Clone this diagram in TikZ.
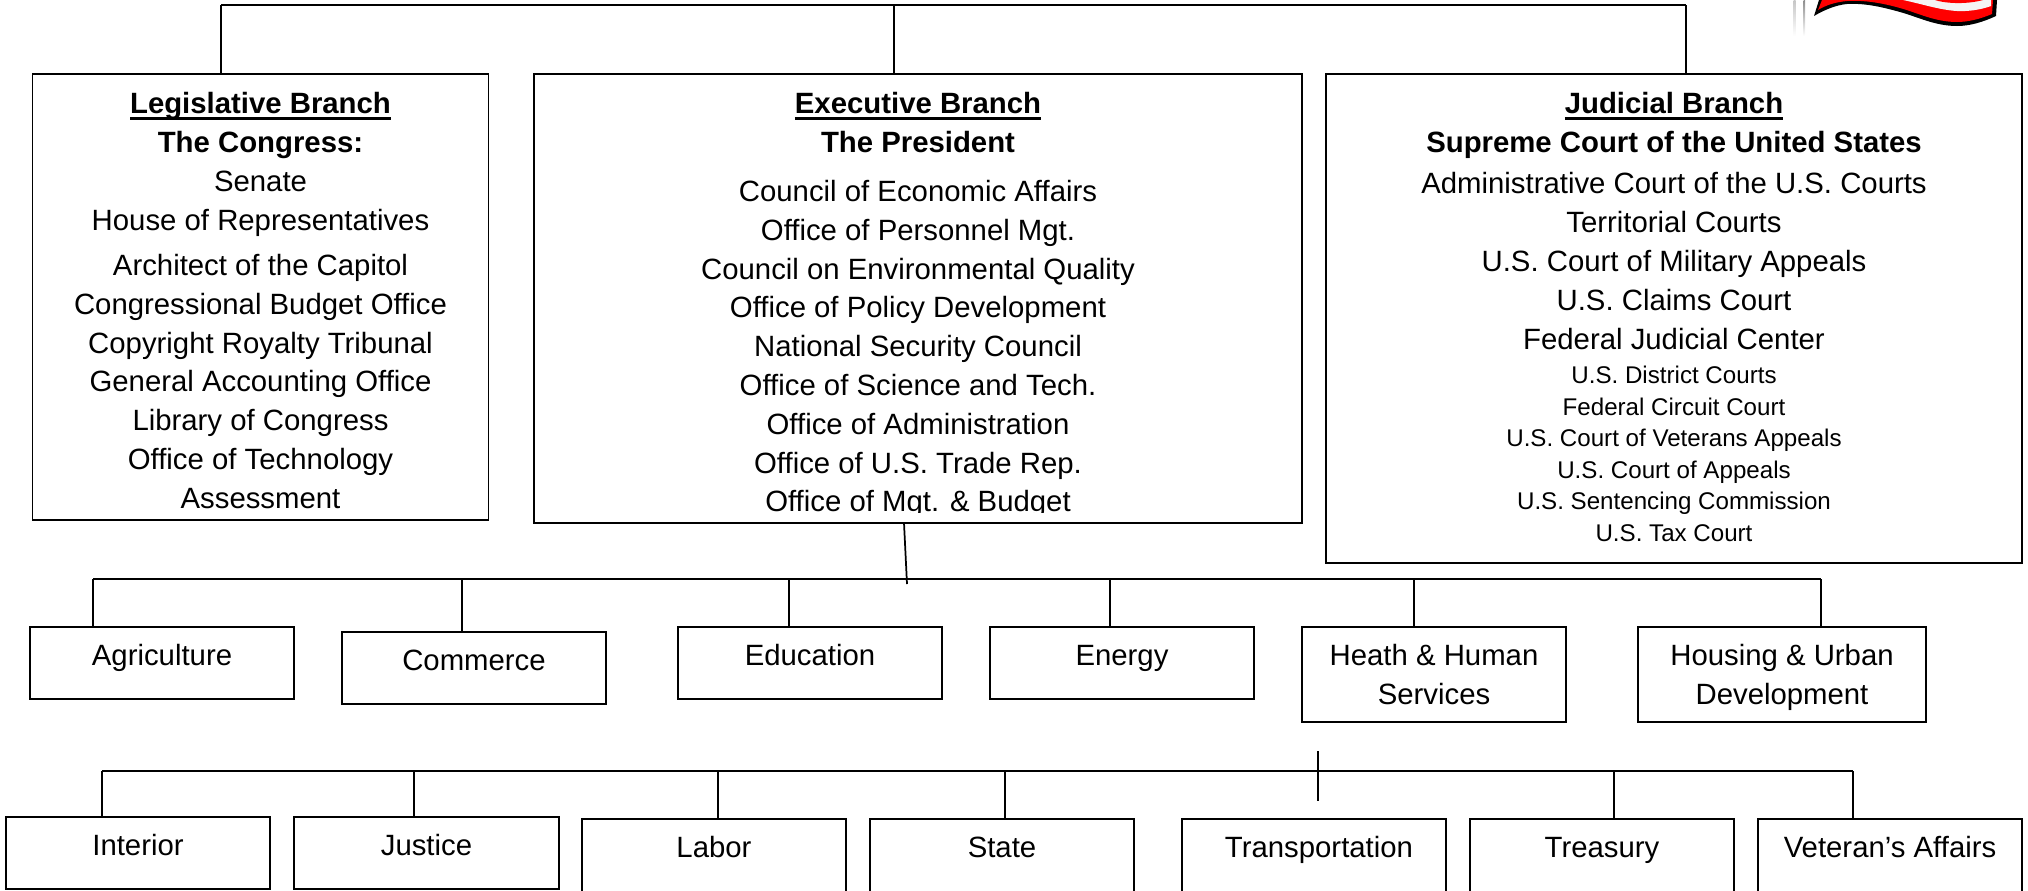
\documentclass[tikz,border=0pt]{standalone}
\usepackage{fontspec}
\setmainfont{Liberation Sans}

\newcommand{\headRule}[1]{\setbox0\hbox{#1}\rlap{\rule[-5pt]{\wd0}{2.4pt}}\box0}

\begin{document}
\begin{tikzpicture}
[x=0.75pt,y=-0.75pt,line width=1.3pt,%
  boxDecorate/.style={shape=rectangle,draw,inner sep=0pt},%
  lineDecorate/.style={-},%
  textDecorate/.style={inner sep=0pt,anchor=base,yshift=-0.8pt,font=\fontsize{22}{26}\selectfont},%
  smallDecorate/.style={inner sep=0pt,anchor=base,yshift=-0.8pt,font=\fontsize{18.1}{22}\selectfont},%
  headDecorate/.style={inner sep=0pt,anchor=base,yshift=-0.8pt,font=\fontsize{22}{26}\selectfont\bfseries}]
\useasboundingbox (0,0) rectangle (2028,890);
%% flag
\fill[black] (1814,16) -- (1819,0) -- (1997,0) -- (1996,16)
  .. controls (1983,22) and (1970,26) .. (1957,26) .. controls (1935,26) and (1918,17) .. (1900,12)
  .. controls (1882,7) and (1865,3) .. (1847,4) .. controls (1836,5) and (1824,10) .. (1814,16) -- cycle;
\fill[red] (1818,10) -- (1822,0) -- (1993,0) -- (1992,14)
  .. controls (1980,19) and (1968,22) .. (1957,22) .. controls (1935,22) and (1918,13) .. (1900,8)
  .. controls (1882,3) and (1865,0) .. (1847,1) .. controls (1836,2) and (1826,5) .. (1818,10) -- cycle;
\fill[black!4] (1903,0) -- (1991,0) -- (1991,6)
  .. controls (1980,10) and (1968,11.5) .. (1957,11) .. controls (1940,10) and (1922,4) .. (1903,0) -- cycle;
\fill[red] (1935,0) .. controls (1943,3) and (1965,5) .. (1983,0) -- cycle;
\shade[top color=gray!45,bottom color=white] (1793.5,0) rectangle (1795.5,36);
\shade[top color=gray!90,bottom color=white] (1803.5,0) rectangle (1805,36);
%% branch boxes
\foreach \nodename/\x/\y/\w/\h in {legis/260.5/297/456/446, exec/918/298.5/768/449, jud/1674/318.5/696/489}
{
  \node (\nodename) at (\x,\y) [boxDecorate,minimum width=\w*0.75pt,minimum height=\h*0.75pt] {};
}
%% department boxes
\foreach \nodename/\x/\y/\w/\h/\txt/\ty in {%
  agri/162/663/264/72/Agriculture/664,
  comm/474/668/264/72/Commerce/669,
  educ/810/663/264/72/Education/664,
  ener/1122/663/264/72/Energy/664,
  inte/138/853/264/72/Interior/854,
  just/426.5/853/265/72/Justice/854,
  labo/714/858/264/78/Labor/856,
  stat/1002/858/264/78/State/856,
  trea/1602/858/264/78/Treasury/856,
  vete/1890/858/264/78/Veteran’s Affairs/856}
{
  \node (\nodename) at (\x,\y) [boxDecorate,minimum width=\w*0.75pt,minimum height=\h*0.75pt] {};
  \node (\nodename Text) at (\x,\ty) [textDecorate] {\txt};
}
\node (tran) at (1314,858) [boxDecorate,minimum width=198pt,minimum height=58.5pt] {};
\node (heal) at (1434,674.5) [boxDecorate,minimum width=198pt,minimum height=71.25pt] {};
\node (hous) at (1782,674.5) [boxDecorate,minimum width=216pt,minimum height=71.25pt] {};
\foreach \nodename/\x/\y/\txt in {tranText/1319/856/Transportation, healA/1434/664/Heath \& Human, healB/1434/703/Services, housA/1782/664/Housing \& Urban, housB/1782/703/Development}
{
  \node (\nodename) at (\x,\y) [textDecorate] {\txt};
}
%% branch texts
\node (legisHead) at (260.5,112) [headDecorate] {\headRule{Legislative Branch}};
\node (legisSub) at (260.5,151) [headDecorate] {The Congress:};
\foreach \nodename/\y/\txt in {%
  a/190/Senate, b/229/House of Representatives, c/274/Architect of the Capitol,
  d/313/Congressional Budget Office, e/352/Copyright Royalty Tribunal,
  f/390/General Accounting Office, g/429/Library of Congress,
  h/468/Office of Technology, i/507/Assessment}
{
  \node (legis\nodename) at (260.5,\y) [textDecorate] {\txt};
}
\node (execHead) at (918,112) [headDecorate] {\headRule{Executive Branch}};
\node (execSub) at (918,151) [headDecorate] {The President};
\begin{scope}
\clip (534,74) rectangle (1302,512);
\foreach \nodename/\y/\txt in {%
  a/200.5/Council of Economic Affairs, b/239.3/Office of Personnel Mgt.,
  c/278/Council on Environmental Quality, d/316.8/Office of Policy Development,
  e/355.6/National Security Council, f/394.4/Office of Science and Tech.,
  g/433.2/Office of Administration, h/472/Office of U.S. Trade Rep.,
  i/510.6/Office of Mgt. \& Budget}
{
  \node (exec\nodename) at (918,\y) [textDecorate] {\txt};
}
\end{scope}
\node (judHead) at (1674,112) [headDecorate] {\headRule{Judicial Branch}};
\node (judSub) at (1674,151) [headDecorate] {Supreme Court of the United States};
\foreach \nodename/\y/\txt in {%
  a/192.5/Administrative Court of the U.S. Courts, b/231.5/Territorial Courts,
  c/270.5/U.S. Court of Military Appeals, d/309.5/U.S. Claims Court,
  e/348.5/Federal Judicial Center}
{
  \node (jud\nodename) at (1674,\y) [textDecorate] {\txt};
}
\foreach \nodename/\y/\txt in {%
  f/382/U.S. District Courts, g/414/Federal Circuit Court,
  h/445.5/U.S. Court of Veterans Appeals, i/477/U.S. Court of Appeals,
  j/508.5/U.S. Sentencing Commission, k/540.5/U.S. Tax Court}
{
  \node (jud\nodename) at (1674,\y) [smallDecorate] {\txt};
}
%% top bus
\coordinate (topLeft) at (221,5);
\coordinate (topMid) at (894,5);
\coordinate (topRight) at (1686,5);
\draw (topLeft) -- (topRight);
\path
\foreach \startnode/\endnode in {topLeft/legis, topMid/exec, topRight/jud}
{
  (\startnode) edge[lineDecorate] (\startnode |- \endnode.north)
};
%% first bus
\coordinate (execTail) at (904,523);
\coordinate (execTip) at (907,584);
\draw (execTail) -- (execTip);
\coordinate (busOneLeft) at (93,579);
\coordinate (busOneRight) at (1821,579);
\draw (busOneLeft) -- (busOneRight);
\foreach \endnode/\x in {agri/93, comm/462, educ/789, ener/1110, heal/1414, hous/1821}
{
  \coordinate (bus\endnode) at (\x,579);
  \draw[lineDecorate] (bus\endnode) -- (bus\endnode |- \endnode.north);
}
%% second bus
\coordinate (stemTop) at (1318,751);
\coordinate (stemBottom) at (1318,801);
\draw (stemTop) -- (stemBottom);
\coordinate (busTwoLeft) at (102,771);
\coordinate (busTwoRight) at (1853,771);
\draw (busTwoLeft) -- (busTwoRight);
\foreach \endnode/\x in {inte/102, just/414, labo/718, stat/1005, trea/1614, vete/1853}
{
  \coordinate (bus\endnode) at (\x,771);
  \draw[lineDecorate] (bus\endnode) -- (bus\endnode |- \endnode.north);
}
\end{tikzpicture}
\end{document}
